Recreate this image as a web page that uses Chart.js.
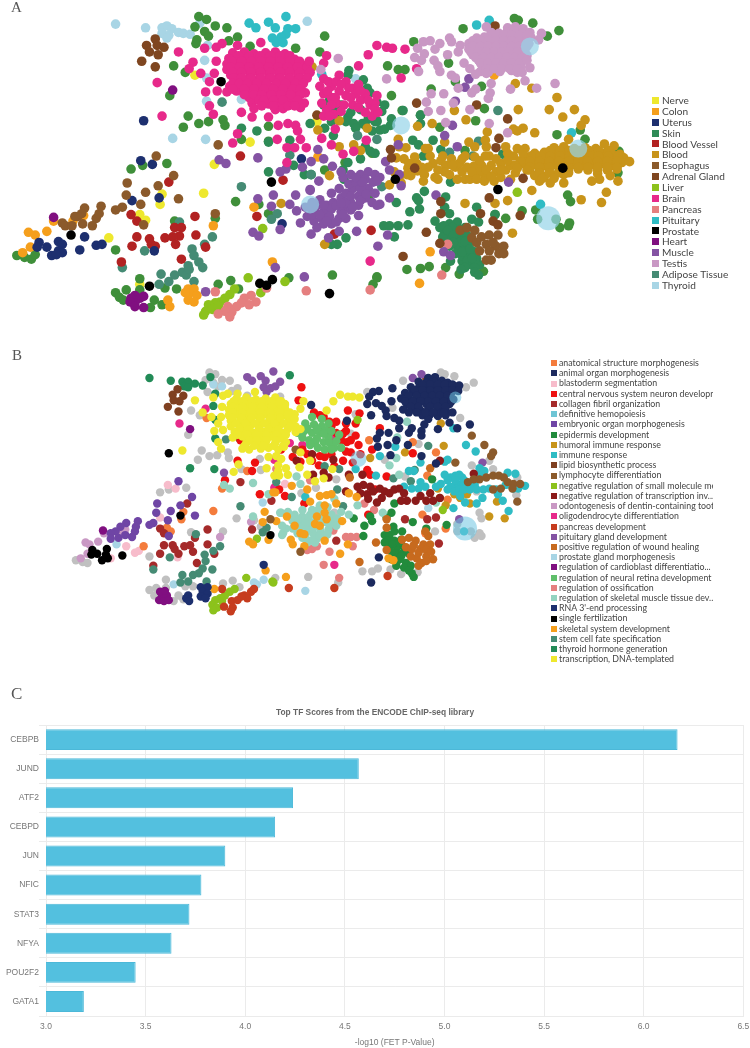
<!DOCTYPE html>
<html>
<head>
<meta charset="utf-8">
<title>TF scores</title>
<script src="https://cdn.jsdelivr.net/npm/chart.js@4/dist/chart.umd.min.js"></script>
<style>
html,body{margin:0;padding:0;background:#fff;width:750px;height:1048px;overflow:hidden}
canvas{position:absolute;left:0}
#chartA{top:0}
#chartB{top:340px}
#chartC{top:700px}
.panel{position:absolute;font-family:"Liberation Serif",serif;color:#555;line-height:1}
.legend{position:absolute;font-family:Lato,sans-serif;white-space:nowrap}
.legend div{position:relative;overflow:hidden}
.legend i{position:absolute;left:0;display:block}
</style>
</head>
<body>
<canvas id="chartA" width="750" height="340"></canvas>
<canvas id="chartB" width="750" height="340"></canvas>
<canvas id="chartC" width="750" height="348"></canvas>
<div class="panel" style="left:11px;top:0;font-size:15px">A</div>
<div class="panel" style="left:12px;top:348px;font-size:15px">B</div>
<div class="panel" style="left:11px;top:685px;font-size:17px">C</div>
<div class="legend" id="legendA" style="left:652px;top:95px"></div>
<div class="legend" id="legendB" style="left:551px;top:358px"></div>
<script>
// panel A, positions
const nerveA=[[189,68],[246,140],[315,118],[209,164],[198,195],[155,196],[153,207],[132,218],[138,224],[100,243],[132,293]];
const colonA=[[43,225],[63,225],[74,219],[17,237],[24,240],[36,236],[19,253],[11,259],[208,230],[250,210],[269,269],[316,156],[498,68],[432,258],[421,292],[182,298],[188,298],[183,303],[191,305],[182,310],[188,312],[179,302],[163,317],[161,310]];
const uterusA=[[136,117],[133,160],[145,164],[124,203],[152,200],[75,242],[28,248],[26,253],[36,253],[48,247],[52,250],[48,257],[52,259],[41,262],[46,261],[70,256],[87,251],[93,250],[147,257],[299,158],[279,228]];
const skinA=[[437,225],[442,232],[447,238],[452,228],[460,226],[458,235],[452,243],[460,245],[465,240],[460,252],[467,255],[472,248],[470,262],[478,258],[480,265],[472,270],[465,268],[475,272],[458,260],[452,252],[445,242],[483,272],[478,275],[465,262],[455,232],[468,232],[446,230],[450,235],[456,240],[463,234],[470,240],[464,247],[456,248],[468,247],[465,258],[473,255],[478,266],[470,268],[468,275],[475,265],[348,63],[347,68],[363,73],[367,82],[370,87],[322,100],[347,113],[353,120],[362,120],[333,107],[308,120],[323,125],[332,133],[328,95],[340,100],[350,108],[360,105],[368,115],[375,118],[345,118],[355,125],[372,128],[330,118],[336,108],[365,122],[377,97],[385,100],[382,107],[377,118],[380,127],[392,115],[391,122],[404,106],[422,111],[422,120],[414,138],[420,143],[435,138],[443,148],[425,155],[423,168],[415,170],[507,153],[453,183],[426,193],[418,200],[420,203],[421,212],[411,215],[397,205],[448,199],[447,210],[452,217],[480,210],[475,223],[482,226],[499,218],[384,230],[390,230],[399,230],[409,229],[395,242],[453,268],[464,277],[478,280],[482,283],[377,117],[385,126],[365,145],[375,152],[360,158],[347,162],[342,170],[253,128],[265,172],[287,138],[291,165],[302,175],[309,175],[336,250],[345,243],[322,100],[237,125],[265,140],[330,250],[343,180],[370,150]];
const bloodVesselA=[[236,155],[280,181],[253,220],[162,183],[189,220],[123,218],[129,225],[168,232],[175,232],[173,241],[166,242],[158,243],[129,242],[142,244],[144,250],[148,252],[124,252],[169,250],[190,240],[200,253],[175,266],[113,269],[333,239],[371,235]];
const bloodA=[[560,146],[570,145],[581,147],[592,146],[603,147],[612,142],[622,144],[540,152],[550,151],[561,153],[571,152],[582,152],[592,153],[602,152],[612,152],[620,153],[628,153],[532,158],[542,158],[552,157],[562,159],[572,158],[582,158],[592,158],[602,159],[612,158],[622,158],[632,157],[530,164],[540,164],[550,165],[560,164],[570,163],[580,164],[590,165],[600,164],[610,163],[620,165],[630,162],[638,161],[535,170],[545,170],[555,170],[565,171],[575,170],[585,169],[595,170],[605,170],[615,170],[625,169],[540,176],[550,177],[560,176],[570,175],[605,174],[618,176],[545,182],[556,184],[556,149],[566,149],[576,149],[586,149],[596,149],[606,149],[616,149],[536,155],[546,155],[556,155],[566,155],[576,155],[586,155],[596,155],[606,155],[616,155],[626,155],[535,161],[545,161],[555,161],[565,161],[575,161],[585,161],[595,161],[605,161],[615,161],[625,161],[535,167],[545,167],[555,167],[565,167],[575,167],[585,167],[595,167],[605,167],[615,167],[625,167],[545,173],[555,173],[565,173],[575,173],[548,179],[560,179],[430,147],[432,155],[435,163],[430,167],[423,167],[419,171],[412,176],[409,168],[405,158],[408,175],[426,175],[437,178],[443,160],[448,165],[447,172],[454,158],[458,167],[452,175],[462,163],[465,172],[470,167],[460,180],[468,180],[473,180],[477,166],[478,156],[485,165],[488,175],[488,182],[495,165],[500,172],[498,182],[505,163],[510,170],[505,178],[515,165],[518,155],[520,173],[515,180],[522,147],[530,147],[525,160],[532,170],[528,152],[478,145],[472,140],[468,155],[490,145],[500,158],[510,145],[512,152],[482,172],[493,155],[416,156],[400,178],[395,172],[402,184],[425,182],[400,145],[397,157],[440,170],[445,155],[455,165],[465,158],[475,172],[483,160],[490,170],[505,170],[512,160],[520,165],[410,163],[418,163],[440,180],[480,180],[495,177],[522,168],[457,106],[469,116],[434,120],[419,123],[523,105],[555,105],[581,105],[569,113],[592,116],[588,122],[563,92],[520,77],[537,82],[491,129],[489,138],[518,126],[528,125],[522,128],[540,130],[575,137],[447,140],[399,137],[407,146],[427,147],[489,155],[614,194],[588,202],[609,205],[537,192],[512,203],[499,206],[468,206],[517,238],[626,182],[607,180],[599,182],[570,184],[310,59],[316,127],[338,117],[367,125],[338,145],[353,143],[360,149],[328,176],[323,250],[278,206],[390,186]];
const esophagusA=[[75,211],[72,217],[68,220],[65,220],[52,227],[55,230],[62,230],[73,228],[83,230],[87,222],[90,217],[92,209],[107,213],[114,210],[119,184],[118,197],[138,194],[133,207],[151,187],[167,176],[172,201],[149,155],[136,229],[213,143],[210,217],[463,235],[470,232],[478,235],[475,243],[485,242],[493,240],[502,240],[490,250],[500,252],[508,252],[483,257],[493,257],[503,260],[490,267],[495,267],[508,260],[480,248],[497,248]];
const adrenalA=[[148,29],[139,36],[150,36],[157,38],[142,43],[151,46],[134,53],[148,59],[418,98],[480,100],[512,115],[503,136],[500,146],[391,148],[392,157],[416,168],[528,179],[493,200],[443,204],[443,217],[484,217],[497,225],[502,229],[525,219],[428,237],[442,249],[404,263],[499,15],[315,111]];
const liverA=[[259,233],[244,286],[282,290],[230,298],[225,304],[220,308],[215,312],[210,313],[203,315],[200,322],[207,320],[198,326],[213,317],[257,302],[522,194]];
const brainA=[[228,44],[240,43],[250,45],[262,44],[272,43],[282,45],[224,50],[232,51],[242,50],[252,49],[262,51],[272,50],[282,50],[292,51],[222,56],[230,55],[240,57],[250,56],[260,55],[270,57],[280,56],[290,55],[300,57],[222,62],[232,62],[242,61],[252,63],[262,62],[272,61],[282,63],[292,62],[302,61],[226,68],[236,68],[246,67],[256,69],[266,68],[276,67],[286,69],[296,68],[306,67],[232,74],[242,73],[252,75],[262,74],[272,73],[282,75],[292,74],[302,73],[225,80],[238,81],[248,80],[258,79],[268,81],[278,80],[288,79],[298,81],[222,86],[232,85],[245,87],[255,86],[265,85],[275,87],[285,86],[293,85],[303,87],[245,92],[252,93],[262,92],[272,91],[282,93],[292,92],[248,98],[265,99],[275,98],[287,97],[302,98],[250,104],[272,105],[280,104],[298,103],[234,47],[245,47],[256,47],[267,47],[277,47],[287,47],[227,53],[237,53],[247,53],[257,53],[267,53],[277,53],[287,53],[297,53],[226,59],[235,59],[245,59],[255,59],[265,59],[275,59],[285,59],[295,59],[305,59],[228,65],[237,65],[247,65],[257,65],[267,65],[277,65],[287,65],[297,65],[308,65],[229,71],[237,71],[247,71],[257,71],[267,71],[277,71],[287,71],[297,71],[305,71],[228,77],[235,77],[243,77],[253,77],[263,77],[273,77],[283,77],[293,77],[301,77],[228,83],[240,83],[250,83],[260,83],[270,83],[280,83],[290,83],[298,83],[240,89],[250,89],[258,89],[268,89],[278,89],[288,89],[298,89],[255,95],[260,95],[270,95],[280,95],[295,95],[258,101],[270,101],[285,101],[292,101],[322,72],[330,80],[338,68],[345,75],[318,80],[322,88],[330,92],[338,85],[345,90],[335,98],[343,100],[325,105],[332,110],[322,112],[352,82],[358,78],[365,88],[360,95],[352,100],[370,100],[365,108],[372,112],[355,88],[348,82],[375,98],[320,98],[327,75],[335,75],[326,85],[334,92],[340,78],[330,100],[340,107],[350,92],[360,85],[368,95],[358,103],[375,105],[328,112],[377,36],[387,38],[393,39],[406,40],[418,61],[402,71],[377,90],[378,108],[172,43],[199,39],[211,38],[217,34],[233,36],[257,33],[368,46],[358,58],[325,47],[322,55],[307,53],[211,53],[187,54],[183,61],[195,66],[209,66],[204,75],[200,86],[212,85],[204,101],[208,110],[150,76],[155,112],[233,131],[228,141],[274,137],[284,146],[292,146],[304,146],[298,137],[284,162],[320,136],[334,126],[330,143],[342,153],[353,150],[366,138],[370,268],[237,108],[248,113],[265,113],[275,122],[285,120],[293,122],[295,128]];
const pancreasA=[[247,305],[240,308],[252,312],[245,315],[237,313],[232,317],[223,317],[227,323],[220,322],[213,325],[225,328],[210,301],[263,297],[304,300],[370,299],[450,250],[444,283]];
const pituitaryA=[[245,12],[252,17],[265,11],[272,17],[283,5],[285,18],[293,18],[283,24],[278,27],[269,28],[273,33],[280,33],[320,67],[480,14],[493,9],[578,130],[546,207]];
const prostateA=[[216,75],[268,183],[61,240],[142,295],[256,292],[263,294],[269,288],[328,303],[396,180],[502,191],[569,168]];
const heartA=[[43,221],[166,84],[127,305],[123,308],[132,308],[127,313],[136,306],[122,312],[127,317],[136,318]];
const muscleA=[[303,210],[310,205],[318,202],[325,208],[332,205],[340,200],[345,210],[350,205],[313,215],[322,215],[330,212],[340,215],[350,213],[305,220],[312,225],[320,222],[328,220],[338,222],[345,222],[315,232],[322,228],[330,228],[308,192],[330,195],[338,190],[345,195],[352,190],[358,198],[342,178],[348,185],[355,183],[340,172],[360,175],[368,172],[375,175],[365,180],[373,183],[368,190],[375,195],[365,200],[372,205],[358,208],[307,210],[315,208],[322,208],[335,208],[345,205],[310,218],[318,218],[325,225],[335,226],[342,218],[352,210],[360,203],[340,206],[350,198],[360,190],[362,183],[350,175],[355,178],[366,196],[316,148],[322,158],[309,161],[300,167],[283,169],[277,172],[331,166],[317,182],[308,191],[293,197],[287,207],[294,214],[298,227],[270,197],[254,201],[268,209],[249,237],[255,241],[277,234],[309,239],[327,243],[338,236],[356,236],[358,219],[272,275],[302,285],[200,301],[214,159],[221,163],[254,157],[386,161],[399,143],[390,170],[400,175],[402,187],[380,178],[377,182],[390,200],[380,207],[377,208],[388,240],[378,252],[438,197],[446,258],[453,262],[513,183],[460,145],[447,133],[455,122],[458,96],[472,72],[468,81]];
const testisA=[[512,17],[520,16],[528,18],[495,22],[503,23],[511,22],[519,21],[527,23],[535,22],[480,28],[488,27],[496,29],[504,28],[512,27],[520,29],[528,28],[536,27],[472,34],[480,35],[488,34],[496,33],[504,35],[512,34],[520,33],[528,35],[534,34],[472,40],[480,39],[488,41],[496,40],[504,39],[512,41],[520,40],[528,39],[476,46],[484,47],[492,46],[500,45],[508,47],[516,46],[524,45],[532,47],[482,52],[490,53],[498,52],[506,51],[514,53],[522,52],[530,51],[486,58],[494,57],[502,59],[510,58],[518,57],[526,59],[484,64],[492,65],[504,64],[516,63],[522,65],[500,25],[508,25],[516,25],[524,25],[532,25],[476,31],[484,31],[492,31],[500,31],[508,31],[516,31],[524,31],[532,31],[476,37],[484,37],[492,37],[500,37],[508,37],[516,37],[524,37],[532,37],[474,43],[482,43],[490,43],[498,43],[506,43],[514,43],[522,43],[530,43],[479,49],[487,49],[495,49],[503,49],[511,49],[519,49],[527,49],[484,55],[492,55],[500,55],[508,55],[516,55],[524,55],[490,61],[498,61],[506,61],[514,61],[522,61],[425,32],[432,31],[442,34],[437,40],[452,28],[454,32],[419,39],[426,45],[416,49],[423,52],[436,52],[450,46],[440,58],[442,64],[420,64],[463,36],[461,43],[467,55],[473,61],[454,68],[458,71],[479,67],[490,66],[387,72],[461,82],[479,83],[475,87],[495,77],[494,87],[492,93],[433,88],[446,88],[428,97],[456,98],[430,107],[443,106],[473,105],[448,119],[493,120],[512,130],[515,83],[530,74],[542,82],[561,77],[535,60],[527,65],[547,23],[544,30],[532,52],[490,16],[337,50],[319,62]];
const adiposeA=[[217,97],[287,154],[237,188],[274,217],[268,223],[309,175],[357,133],[173,226],[207,242],[199,250],[137,257],[186,255],[188,262],[114,275],[182,273],[193,269],[197,275],[176,280],[168,283],[180,283],[183,277],[154,282],[162,290],[152,293],[188,290],[502,106],[482,139],[476,155],[452,151],[377,137],[382,188],[588,152]];
const thyroidA=[[107,13],[138,17],[155,17],[160,15],[165,18],[155,23],[162,25],[160,28],[172,22],[177,23],[184,24],[194,12],[202,36],[199,52],[201,71],[237,94],[201,96],[166,136],[200,137],[305,10],[355,72]];
const thyroidLargeA=[[308,207],[402,122],[535,37],[585,147]];
const thyroidLargestA=[[554,222]];
const otherA=[[193,5],[201,8],[189,16],[199,21],[210,15],[222,17],[203,26],[191,30],[190,34],[233,27],[224,31],[246,37],[293,39],[323,26],[318,43],[167,58],[179,65],[182,112],[177,124],[193,120],[203,118],[218,116],[220,122],[163,90],[265,123],[265,139],[237,137],[123,169],[135,165],[160,163],[231,204],[255,207],[265,217],[107,256],[210,222],[168,225],[5,262],[13,264],[20,266],[24,261],[132,287],[132,299],[118,299],[107,302],[111,307],[115,310],[147,310],[143,318],[155,315],[158,297],[170,298],[213,293],[226,289],[234,298],[286,286],[331,283],[369,197],[323,170],[344,162],[372,152],[373,293],[377,285],[466,18],[519,7],[523,9],[538,12],[553,26],[565,20],[415,32],[399,62],[406,62],[388,58],[451,55],[458,75],[485,80],[433,83],[392,90],[403,106],[488,104],[422,111],[479,117],[442,124],[468,149],[563,132],[587,127],[592,137],[627,150],[626,173],[574,197],[577,204],[541,213],[543,223],[562,223],[566,232],[576,227],[575,230],[510,222],[527,214],[499,218],[408,277],[422,276],[431,274],[448,275],[462,282],[487,279],[377,286]];

// panel B
const anatomicalB=[[201,411],[243,468],[217,487],[208,511],[177,512],[175,520],[160,529],[164,533],[136,549],[369,435],[414,437],[438,448],[429,473],[450,499],[424,515],[427,535],[448,530]];
const organB=[[430,368],[437,367],[420,372],[428,373],[436,372],[444,371],[450,373],[412,378],[420,379],[428,378],[436,377],[444,379],[452,378],[458,377],[406,384],[414,383],[422,385],[430,384],[438,383],[446,385],[454,384],[402,390],[410,391],[418,390],[426,389],[434,391],[442,390],[450,389],[456,391],[408,396],[416,397],[428,396],[436,395],[444,397],[452,396],[404,402],[414,401],[422,403],[430,402],[440,401],[448,403],[424,408],[432,407],[440,409],[448,408],[430,412],[424,375],[432,375],[440,375],[447,375],[455,375],[416,381],[424,381],[432,381],[440,381],[448,381],[455,381],[410,387],[418,387],[426,387],[434,387],[442,387],[450,387],[406,393],[414,393],[422,393],[430,393],[438,393],[446,393],[454,393],[412,399],[420,399],[432,399],[440,399],[448,399],[410,405],[418,405],[427,405],[435,405],[444,405],[393,379],[379,382],[373,383],[369,388],[367,396],[376,395],[371,408],[382,398],[386,403],[387,409],[392,393],[395,411],[400,414],[400,422],[413,422],[410,427],[423,425],[426,418],[423,430],[440,423],[452,416],[460,422],[473,418],[455,405],[446,405],[462,376],[461,382],[380,427],[377,433],[389,427],[378,442],[388,440],[397,435],[409,440],[391,451],[423,452],[438,460],[346,414],[309,397],[379,561],[371,588]];
const blastodermB=[[161,483],[169,487],[153,518],[118,549],[127,556],[131,554],[102,562],[171,561],[282,482]];
const cnsB=[[233,457],[251,459],[248,468],[220,478],[256,493],[236,435],[276,488],[278,445],[299,378],[296,392],[318,408],[347,403],[359,406],[345,417],[355,417],[328,415],[330,420],[320,423],[335,427],[342,428],[346,437],[358,440],[350,448],[342,457],[352,459],[323,453],[310,457],[290,453],[298,458],[317,462],[333,463],[367,467],[370,472],[380,422],[372,445],[414,449],[387,474],[375,488],[302,503],[282,495],[368,515],[312,405],[322,410],[335,415],[345,425],[350,435],[340,435],[330,450],[318,452],[305,450],[300,445],[345,447],[360,450],[355,430]];
const collagenB=[[236,480],[268,500],[202,531],[248,531],[181,503],[153,530],[157,535],[157,548],[166,548],[168,552],[172,557],[153,557],[187,555],[178,549],[184,548],[189,540],[202,547],[209,557],[191,567],[146,570],[335,543],[406,520],[429,520],[438,518],[441,546]];
const hemopoiesisB=[[358,455]];
const hemopoiesisLargeB=[[468,530]];
const hemopoiesisSmallB=[[458,389]];
const embryonicB=[[172,479],[186,496],[150,503],[174,505],[149,513],[164,511],[189,516],[161,521],[142,526],[146,524],[130,522],[128,528],[127,533],[124,539],[118,524],[112,528],[107,533],[102,535],[102,541],[110,540],[117,537],[162,538]];
const epidermisB=[[385,537],[390,537],[395,533],[403,533],[388,543],[395,543],[402,542],[390,550],[398,550],[405,550],[397,557],[403,557],[410,557],[400,563],[407,567],[412,570],[397,570],[413,578],[415,582],[370,517],[372,522],[364,527],[392,513],[363,538],[394,528],[387,518],[414,523],[428,530],[449,526],[353,519],[434,477],[395,503],[393,547],[400,545],[408,553],[402,560],[392,563],[405,572],[410,575],[385,545],[392,555],[398,565]];
const humoralB=[[370,454],[406,448],[446,441],[443,417],[501,501],[493,517],[509,519],[470,493],[473,503],[463,497],[457,493],[448,505],[440,487],[442,497]];
const immuneB=[[530,484],[520,471],[512,470],[483,465],[488,468],[483,473],[478,483],[473,483],[468,483],[463,483],[458,483],[453,485],[450,488],[457,490],[462,488],[467,488],[473,488],[480,488],[487,488],[493,487],[500,488],[458,473],[462,472],[465,475],[453,475],[447,472],[450,478],[458,478],[467,478],[443,482],[438,485],[427,485],[420,487],[413,487],[405,485],[410,468],[415,468],[422,480],[422,459],[450,456],[447,458],[469,440],[479,447],[480,503],[486,497],[468,502],[463,495],[456,508],[507,500],[513,511],[502,493],[518,487],[523,487],[510,483],[376,473],[380,452],[396,442],[355,466],[303,496],[467,533],[456,422]];
const lipidB=[[171,380],[166,386],[177,387],[167,392],[173,393],[161,399],[172,404],[428,369]];
const lymphocyteB=[[471,480],[477,477],[483,477],[490,475],[497,473],[503,473],[508,475],[512,480],[518,482],[525,482],[517,487],[505,487],[497,488],[475,430],[488,440],[497,448],[495,452],[458,459],[522,501],[298,555],[293,445],[267,520]];
const smallMolB=[[253,541],[242,583],[269,587],[230,595],[225,598],[220,602],[215,605],[210,607],[207,612],[212,615],[208,618],[217,608],[445,510],[270,588],[357,413]];
const negTransB=[[363,483],[370,485],[360,492],[367,493],[373,490],[380,487],[385,490],[390,492],[395,488],[400,487],[405,492],[408,500],[402,500],[382,497],[377,502],[368,498],[417,500],[422,495],[432,492],[428,500],[435,500],[442,497],[357,485],[348,472],[345,490],[322,470],[327,475],[311,472],[310,450],[294,457],[332,456],[362,472],[442,457],[477,471]];
const odontoB=[[76,545],[80,547],[89,544],[71,562],[78,557],[95,535],[110,535],[117,531],[215,539],[247,523]];
const oligoB=[[173,417],[200,401],[271,486],[271,456],[300,440],[287,438],[332,433],[333,569],[272,485]];
const pancreasB=[[227,608],[233,607],[240,602],[247,598],[250,595],[243,605],[237,603],[228,615],[226,619],[219,614],[217,595],[286,594],[333,594],[388,581]];
const pituitaryB=[[243,367],[248,371],[257,366],[262,371],[270,361],[260,378],[267,379],[272,377],[277,372],[263,383],[219,470],[414,368],[423,364],[486,459],[462,520]];
const woundB=[[403,542],[410,540],[417,543],[425,547],[432,547],[407,550],[413,552],[422,552],[428,553],[435,563],[428,560],[418,562],[423,567],[420,570],[387,520],[387,529],[430,538],[427,533],[376,545],[359,566],[387,553],[349,475],[432,465],[415,548],[420,556],[428,565],[433,555],[412,560]];
const prostateGlandB=[[108,547],[259,502],[167,590],[250,588],[253,590],[260,585],[208,375],[217,377],[430,508],[303,597]];
const cardioblastB=[[94,532],[184,423],[155,603],[160,602],[152,607],[157,608],[162,607],[153,598],[158,597]];
const retinaB=[[310,410],[303,417],[312,418],[320,420],[327,417],[295,427],[302,425],[310,427],[318,427],[325,425],[307,435],[313,438],[322,437],[327,432],[333,443],[340,443],[323,445],[338,429],[308,440],[305,422],[315,423],[322,428],[315,433],[330,425],[328,438],[300,432],[320,412],[335,436],[330,445],[316,443]];
const ossificationB=[[345,539],[350,539],[356,539],[352,549],[332,532],[328,555],[315,549],[310,552],[305,553],[322,569],[338,583],[374,510],[364,503],[273,466],[308,478]];
const skeletalMuscleB=[[285,512],[292,515],[300,517],[310,510],[318,505],[326,507],[333,498],[290,522],[298,524],[306,520],[314,515],[322,515],[330,515],[300,530],[308,528],[316,525],[324,523],[332,522],[295,535],[303,537],[311,535],[319,533],[327,531],[335,527],[307,543],[315,541],[323,540],[278,513],[280,535],[313,545],[340,512],[295,520],[303,525],[310,530],[318,530],[327,517],[300,540],[288,518],[296,528],[304,531],[312,523],[320,520],[328,526],[336,519],[290,530],[305,545],[318,538],[326,536],[283,530],[300,510],[308,515],[316,510],[310,543],[348,515],[383,513],[357,505],[397,454],[390,462],[400,472],[438,502],[408,415],[398,432],[298,482],[294,474],[219,483],[225,487],[249,481],[249,517],[277,513],[279,527],[279,537],[265,493]];
const rnaB=[[195,593],[202,593],[197,598],[202,600],[195,603],[200,605],[182,602],[180,605],[183,608],[260,569]];
const fertilizationB=[[162,449],[174,516],[267,537],[114,559],[83,553],[82,558],[88,557],[98,552],[97,558],[93,564],[99,562]];
const skeletalDevB=[[270,491],[261,512],[259,523],[273,522],[265,542],[245,544],[249,547],[262,575],[209,595],[289,484],[305,488],[308,501],[318,495],[325,494],[330,493],[335,503],[348,492],[356,496],[323,505],[323,513],[315,517],[325,520],[341,522],[284,517],[292,527],[313,525],[318,527],[298,535],[302,536],[288,542],[290,547],[302,549],[323,543],[347,547],[339,557],[389,562],[394,564],[283,582],[272,491]];
const stemB=[[221,434],[236,506],[263,529],[259,534],[273,480],[190,536],[215,549],[208,554],[163,561],[199,558],[200,565],[207,574],[197,573],[193,578],[187,580],[176,580],[201,587],[182,587],[174,588],[146,574],[323,463],[338,466],[336,488],[342,506],[289,496],[394,476],[412,479],[416,467],[430,441]];
const thyroidB=[[142,368],[164,371],[176,372],[182,372],[178,377],[182,378],[189,374],[197,376],[205,367],[184,465],[209,466],[208,398],[210,433],[210,385],[210,413],[235,433],[287,365]];
const dnaB=[[232,390],[242,389],[252,391],[262,390],[272,389],[226,396],[234,395],[244,397],[254,396],[264,395],[274,397],[282,396],[224,402],[232,403],[242,402],[252,401],[262,403],[272,402],[282,401],[224,408],[232,407],[242,409],[252,408],[262,407],[272,409],[282,408],[292,407],[226,414],[236,413],[246,415],[256,414],[266,413],[276,415],[286,414],[226,420],[236,421],[246,420],[256,419],[266,421],[276,420],[290,419],[230,426],[240,425],[250,427],[260,426],[270,425],[280,427],[293,426],[228,432],[238,431],[248,433],[258,432],[268,431],[278,433],[242,438],[255,437],[262,439],[272,438],[283,437],[238,444],[245,445],[257,444],[265,443],[275,445],[229,393],[238,393],[248,393],[258,393],[268,393],[278,393],[228,399],[238,399],[248,399],[258,399],[268,399],[278,399],[228,405],[238,405],[247,405],[257,405],[267,405],[277,405],[287,405],[228,411],[237,411],[247,411],[257,411],[267,411],[277,411],[287,411],[231,417],[241,417],[251,417],[261,417],[271,417],[281,417],[235,423],[245,423],[255,423],[265,423],[275,423],[285,423],[233,429],[243,429],[253,429],[263,429],[273,429],[283,429],[245,435],[253,435],[263,435],[273,435],[240,441],[250,441],[260,441],[270,441],[280,441],[208,389],[218,387],[223,385],[233,385],[251,383],[189,392],[217,399],[197,405],[206,410],[216,410],[213,417],[209,425],[218,424],[213,437],[216,444],[176,446],[234,461],[229,469],[263,465],[271,473],[276,473],[265,453],[273,452],[278,455],[275,462],[339,386],[347,388],[352,388],[359,389],[332,393],[325,403],[301,393],[298,401],[292,412],[293,420],[298,423],[281,442],[298,448],[308,457],[297,464],[305,472],[313,479],[322,476],[331,466],[285,472],[278,455],[275,468],[283,465],[285,407],[282,397],[277,393],[287,420]];
const greyB=[[204,362],[210,364],[200,370],[217,370],[225,371],[208,373],[213,377],[202,383],[227,382],[233,379],[243,387],[277,388],[185,403],[194,408],[182,429],[196,446],[192,456],[204,452],[212,451],[223,448],[224,454],[237,466],[257,467],[256,455],[180,486],[162,488],[153,491],[232,519],[250,521],[257,528],[218,533],[185,534],[142,560],[66,564],[73,566],[78,567],[159,585],[149,594],[142,596],[147,602],[159,594],[179,592],[187,592],[167,608],[172,602],[177,606],[218,589],[228,586],[235,593],[272,583],[404,371],[443,362],[447,364],[457,366],[477,373],[469,378],[367,383],[355,407],[393,400],[350,428],[463,411],[420,439],[385,456],[475,462],[497,466],[493,457],[522,475],[521,494],[480,490],[483,513],[485,519],[460,525],[460,533],[474,533],[478,540],[485,538],[483,535],[437,533],[335,477],[299,492],[333,513],[314,486],[362,576],[372,576],[378,573],[391,574],[402,579],[419,577],[306,582],[337,588],[406,474]];

// bar panel
const tfNames=['CEBPB','JUND','ATF2','CEBPD','JUN','NFIC','STAT3','NFYA','POU2F2','GATA1'];
const tfScores=[6.17,4.57,4.24,4.15,3.90,3.78,3.72,3.63,3.45,3.19];

const legendNamesA=['Nerve','Colon','Uterus','Skin','Blood Vessel','Blood','Esophagus','Adrenal Gland','Liver','Brain','Pancreas','Pituitary','Prostate','Heart','Muscle','Testis','Adipose Tissue','Thyroid'];
const legendColorsA=['#eee82e','#f59f1c','#1d2f6f','#2e8b57','#b22222','#c8941a','#8b5a2b','#7f4620','#8cc21c','#e7298a','#e57f7f','#2fbcc4','#000000','#800f80','#8453a3','#c998c4','#458b74','#a8d5e5'];
const legendNamesB=['anatomical structure morphogenesis','animal organ morphogenesis','blastoderm segmentation','central nervous system neuron developn','collagen fibril organization','definitive hemopoiesis','embryonic organ morphogenesis','epidermis development','humoral immune response','immune response','lipid biosynthetic process','lymphocyte differentiation','negative regulation of small molecule me','negative regulation of transcription inv...','odontogenesis of dentin-containing tootl','oligodendrocyte differentiation','pancreas development','pituitary gland development','positive regulation of wound healing','prostate gland morphogenesis','regulation of cardioblast differentiatio...','regulation of neural retina development','regulation of ossification','regulation of skeletal muscle tissue dev...','RNA 3\'-end processing','single fertilization','skeletal system development','stem cell fate specification','thyroid hormone generation','transcription, DNA-templated'];
const legendColorsB=['#f47c3c','#1c2a5e','#f7bccb','#ee1111','#a52a2a','#6ec5d5','#6f45a5','#228b3c','#c8941a','#2fbcc4','#7f4020','#8b5a2b','#8cc21c','#8b1a1a','#c998c4','#e7298a','#c63c1e','#8453a3','#c76a1e','#a8d5e5','#800f80','#5fbf6a','#e57f7f','#93d3c0','#1c2f6e','#000000','#f59f1c','#458b74','#228b57','#eee82e'];

function makeLegend(id, names, colors, rowH, size, box, textX, maxW) {
    const el = document.getElementById(id);
    names.forEach((n, i) => {
        const row = document.createElement('div');
        row.style.cssText = `height:${rowH}px;line-height:${rowH}px;font-size:${size}px;color:#444;padding-left:${textX}px;width:${maxW}px`;
        row.textContent = n;
        const sw = document.createElement('i');
        sw.style.cssText = `width:${box}px;height:${box}px;top:${(rowH - box) / 2}px;background:${colors[i]}`;
        row.appendChild(sw);
        el.appendChild(row);
    });
}
makeLegend('legendA', legendNamesA, legendColorsA, 10.88, 10.1, 7, 10, 88);
makeLegend('legendB', legendNamesB, legendColorsB, 10.23, 8.8, 6, 8, 154);

function scatter(id, yMin, yMax, radius, series) {
    new Chart(document.getElementById(id), {
        type: 'scatter',
        data: {
            datasets: series.map(s => ({
                label: s[0], data: s[2], backgroundColor: s[1], borderWidth: 0,
                pointRadius: s[3] || radius, pointHoverRadius: s[3] || radius, clip: false
            }))
        },
        options: {
            responsive: false, animation: false,
            layout: { padding: 0 },
            plugins: { legend: { display: false }, tooltip: { enabled: false } },
            scales: {
                x: { type: 'linear', display: false, min: 0, max: 750 },
                y: { type: 'linear', display: false, min: yMin, max: yMax, reverse: true }
            }
        }
    });
}

// first dataset ends up on top
scatter('chartA', 0, 340, 4.8, [
    ['Thyroid large', 'rgba(150,212,232,.7)', thyroidLargeA, 9],
    ['Thyroid largest', 'rgba(150,212,232,.7)', thyroidLargestA, 12],
    ['Prostate', '#000000', prostateA],
    ['Heart', '#800f80', heartA],
    ['Testis', '#c998c4', testisA],
    ['Brain', '#e7298a', brainA],
    ['Esophagus', '#8b5a2b', esophagusA],
    ['Adrenal Gland', '#7f4620', adrenalA],
    ['Muscle', '#8453a3', muscleA],
    ['Blood', '#c8941a', bloodA],
    ['Pancreas', '#e57f7f', pancreasA],
    ['Liver', '#8cc21c', liverA],
    ['Uterus', '#1d2f6f', uterusA],
    ['Colon', '#f59f1c', colonA],
    ['Blood Vessel', '#b22222', bloodVesselA],
    ['Adipose Tissue', '#458b74', adiposeA],
    ['Pituitary', '#2fbcc4', pituitaryA],
    ['Skin', '#2e8b57', skinA],
    ['Other', '#3f8f3a', otherA],
    ['Nerve', '#eee82e', nerveA],
    ['Thyroid', '#a8d5e5', thyroidA]
]);
scatter('chartB', 340, 680, 4.2, [
    ['definitive hemopoiesis', 'rgba(110,197,225,.55)', hemopoiesisB, 8],
    ['definitive hemopoiesis large', 'rgba(110,197,225,.55)', hemopoiesisLargeB, 12],
    ['definitive hemopoiesis small', 'rgba(110,197,225,.55)', hemopoiesisSmallB, 6],
    ['single fertilization', '#000000', fertilizationB],
    ['transcription, DNA-templated', '#eee82e', dnaB],
    ['animal organ morphogenesis', '#1c2a5e', organB],
    ['RNA 3\'-end processing', '#1c2f6e', rnaB],
    ['lymphocyte differentiation', '#8b5a2b', lymphocyteB],
    ['positive regulation of wound healing', '#c76a1e', woundB],
    ['regulation of neural retina development', '#5fbf6a', retinaB],
    ['skeletal system development', '#f59f1c', skeletalDevB],
    ['negative regulation of transcription', '#8b1a1a', negTransB],
    ['immune response', '#2fbcc4', immuneB],
    ['regulation of skeletal muscle tissue', '#93d3c0', skeletalMuscleB],
    ['epidermis development', '#228b3c', epidermisB],
    ['pancreas development', '#c63c1e', pancreasB],
    ['regulation of cardioblast', '#800f80', cardioblastB],
    ['embryonic organ morphogenesis', '#6f45a5', embryonicB],
    ['pituitary gland development', '#8453a3', pituitaryB],
    ['negative regulation of small molecule', '#8cc21c', smallMolB],
    ['stem cell fate specification', '#458b74', stemB],
    ['collagen fibril organization', '#a52a2a', collagenB],
    ['central nervous system neuron', '#ee1111', cnsB],
    ['lipid biosynthetic process', '#7f4020', lipidB],
    ['thyroid hormone generation', '#228b57', thyroidB],
    ['humoral immune response', '#c8941a', humoralB],
    ['anatomical structure morphogenesis', '#f47c3c', anatomicalB],
    ['regulation of ossification', '#e57f7f', ossificationB],
    ['oligodendrocyte differentiation', '#e7298a', oligoB],
    ['odontogenesis', '#c998c4', odontoB],
    ['prostate gland morphogenesis', '#a8d5e5', prostateGlandB],
    ['blastoderm segmentation', '#f7bccb', blastodermB],
    ['unlabelled', '#c0c0c0', greyB]
]);

new Chart(document.getElementById('chartC'), {
    type: 'bar',
    data: {
        labels: tfNames,
        datasets: [{
            data: tfScores, backgroundColor: '#53c0df', borderColor: '#4cb8d8', borderWidth: 1,
            barPercentage: 0.72, categoryPercentage: 1
        }]
    },
    options: {
        indexAxis: 'y', responsive: false, animation: false,
        layout: { padding: 0 },
        plugins: {
            legend: { display: false }, tooltip: { enabled: false },
            title: {
                display: true, text: 'Top TF Scores from the ENCODE ChIP-seq library',
                color: '#666', font: { family: 'Liberation Sans', size: 8.4, weight: 'bold' },
                padding: { top: 8, bottom: 7 }
            }
        },
        scales: {
            x: {
                min: 3, max: 6.5,
                ticks: { stepSize: 0.5, callback: v => v.toFixed(1), color: '#777', font: { family: 'Liberation Sans', size: 8.5 }, padding: 6, maxRotation: 0 },
                grid: { color: '#ebebeb', drawTicks: false },
                border: { color: '#ebebeb' },
                title: { display: true, text: '-log10 (FET P-Value)', color: '#777', font: { family: 'Liberation Sans', size: 8.5 }, padding: { top: 3, bottom: 0 } },
                afterFit: s => { s.height = 32; s.paddingRight = 6.7; }
            },
            y: {
                ticks: { color: '#777', font: { family: 'Liberation Sans', size: 8.5 }, padding: 0 },
                grid: { color: '#ebebeb', tickLength: 7 },
                border: { color: '#ebebeb' },
                afterFit: s => { s.width = 46; }
            }
        }
    }
});
</script>
</body>
</html>
